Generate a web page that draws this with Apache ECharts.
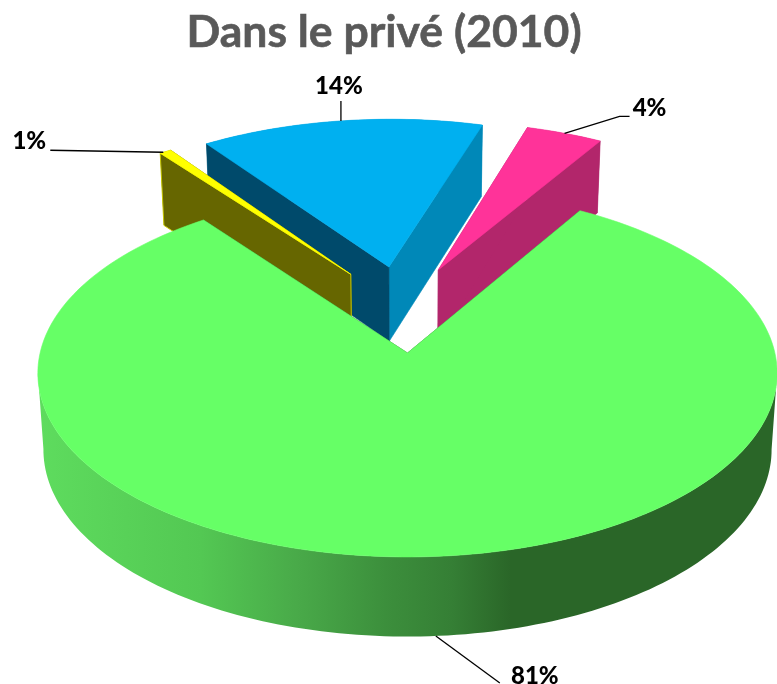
<!DOCTYPE html>
<html><head><meta charset="utf-8">
<style>html,body{margin:0;padding:0;background:#fff}#c{width:777px;height:684px}</style>
<script src="https://cdn.jsdelivr.net/npm/echarts@6/dist/echarts.min.js"></script>
</head><body><div id="c"></div>
<script>
// Slices, clockwise from the start angle
const categories = ['Groupe A', 'Groupe B', 'Groupe C', 'Groupe D'];
const values = [81.1, 0.6, 14.4, 3.9];
const pctLabels = ['81%', '1%', '14%', '4%'];
const topColors = ['#66FF66', '#FFFF00', '#00B0F0', '#FF3399'];
const startWallColors = ['#2A6628', '#666600', '#004A6B', '#B2266B'];
const endWallColors = ['#2A6628', '#666600', '#0088B8', '#B2266B'];
const outerWallColors = [null, '#666600', '#0088B8', '#B2266B'];
// leader: fraction along slice arc, elbow offset, end offset, text offset (from end)
const leaderFrac = [0.497, 0.3, 0.5, 0.5];
const leaderElbow = [[0, 0], [0, 0], [0, -20], [55, -17]];
const leaderEnd = [[64, 47], [-113, -2], [0, -20], [65, -17]];
const textOffset = [[35, -7], [-21, -9], [-2, -15], [20, -8]];

const START_DEG = 30.9, CX = 407.5, CY = 353, A = 367.4, B = 181.5, K = 0.11;
const EXPLODE = 0.252, DEPTH = 76, BOTTOM_SHRINK = 0.985, SEG = 280;

const total = values.reduce((a, b) => a + b, 0);
const rad = d => d * Math.PI / 180;
function project(u, v) {
  const w = 1 + K * v;
  return [CX + A * u / w, CY - B * v / w, w];
}
function projectBottom(u, v) {
  const p = project(u, v);
  return [CX + (p[0] - CX) * BOTTOM_SHRINK, p[1] + DEPTH * Math.pow(p[2], -0.4)];
}
// angular layout
let acc = START_DEG;
const slices = values.map(val => {
  const a0 = acc, a1 = acc + val / total * 360;
  acc = a1;
  return { a0, a1, mid: (a0 + a1) / 2 };
});
const g = slices[0];
slices.forEach(s => {
  s.cu = EXPLODE * (Math.sin(rad(s.mid)) - Math.sin(rad(g.mid)));
  s.cv = EXPLODE * (Math.cos(rad(s.mid)) - Math.cos(rad(g.mid)));
});
const rank = slices.map(s => -s.cv);
const order = rank.map((r, i) => i).sort((a, b) => rank[a] - rank[b]);

function arc(s) {
  const n = Math.max(2, Math.ceil((s.a1 - s.a0) / 360 * SEG));
  const pts = [];
  for (let i = 0; i <= n; i++) {
    const a = rad(s.a0 + (s.a1 - s.a0) * i / n);
    pts.push([s.cu + Math.sin(a), s.cv + Math.cos(a)]);
  }
  return pts;
}
const top2 = q => project(q[0], q[1]).slice(0, 2);
const bot2 = q => projectBottom(q[0], q[1]);
const poly = (points, fill, stroke, z2, lw) => ({
  type: 'polygon', z2, shape: { points },
  style: { fill, stroke: stroke, lineWidth: lw === undefined ? 1 : lw, lineJoin: 'round' }
});
const greenWall = new echarts.graphic.LinearGradient(0, 0, 1, 0, [
  { offset: 0, color: '#5EDC5E' }, { offset: 0.22, color: '#53C853' },
  { offset: 0.35, color: '#49AA49' }, { offset: 0.47, color: '#3C8F3C' },
  { offset: 0.56, color: '#357F35' }, { offset: 0.64, color: '#2A6628' },
  { offset: 1, color: '#2A6628' }
]);

function renderItem(params, api) {
  const i = params.dataIndex, s = slices[i], z = order.indexOf(i) * 10 + 1;
  const a = arc(s), c = [s.cu, s.cv];
  const first = a[0], last = a[a.length - 1];
  const children = [];
  // outer wall: between the left and right silhouette points for the large slice
  if (!outerWallColors[i]) {
    const xs = a.map(q => top2(q)[0]);
    const iR = xs.indexOf(Math.max(...xs)), iL = xs.indexOf(Math.min(...xs));
    const front = a.slice(Math.min(iR, iL), Math.max(iR, iL) + 1);
    children.push(poly(front.map(top2).concat(front.slice().reverse().map(bot2)), greenWall, null, z, 0));
  } else {
    children.push(poly(a.map(top2).concat(a.slice().reverse().map(bot2)), outerWallColors[i], null, z, 0));
  }
  // radial walls, end wall first
  children.push(poly([top2(c), top2(last), bot2(last), bot2(c)], endWallColors[i], endWallColors[i], z + 1, 0.6));
  children.push(poly([top2(c), top2(first), bot2(first), bot2(c)], startWallColors[i],
    i === 1 ? '#C8C800' : startWallColors[i], z + 2, i === 1 ? 1 : 0.6));
  // top face
  children.push(poly([top2(c)].concat(a.map(top2)), topColors[i], topColors[i], z + 4, 0.6));
  // leader line and label
  const la = rad(s.a0 + (s.a1 - s.a0) * leaderFrac[i]);
  const q = [s.cu + Math.sin(la), s.cv + Math.cos(la)];
  const anchor = i === 0 ? bot2(q) : top2(q);
  const elbow = [anchor[0] + leaderElbow[i][0], anchor[1] + leaderElbow[i][1]];
  const end = [anchor[0] + leaderEnd[i][0], anchor[1] + leaderEnd[i][1]];
  children.push({
    type: 'polyline', z2: 200,
    shape: { points: [anchor, elbow, end] },
    style: { fill: null, stroke: '#000', lineWidth: 1.3 }
  });
  children.push({
    type: 'text', z2: 201,
    style: {
      x: end[0] + textOffset[i][0], y: end[1] + textOffset[i][1], text: pctLabels[i],
      fill: '#000', font: '900 24px Lato', align: 'center', verticalAlign: 'middle'
    }
  });
  return { type: 'group', children };
}

const chart = echarts.init(document.getElementById('c'), null, { renderer: 'canvas' });
chart.setOption({
  animation: false,
  backgroundColor: '#fff',
  title: {
    text: 'Dans le privé (2010)', left: 379, top: 5, textAlign: 'center',
    textStyle: { fontFamily: 'Lato', fontWeight: 'bold', fontSize: 44.5, color: '#595959', textBorderColor: '#595959', textBorderWidth: 0.6 }
  },
  series: [{
    type: 'custom', coordinateSystem: 'none', silent: true,
    renderItem,
    data: values.map((v, i) => ({ name: categories[i], value: [v] }))
  }]
});
</script></body></html>
